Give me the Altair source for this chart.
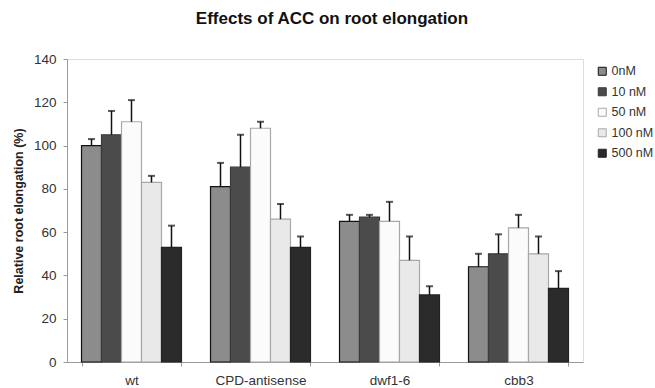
import altair as alt
import pandas as pd

groups = ["wt", "CPD-antisense", "dwf1-6", "cbb3"]
concs = ["0nM", "10 nM", "50 nM", "100 nM", "500 nM"]
values = {
    "wt": [100, 105, 111, 83, 53],
    "CPD-antisense": [81, 90, 108, 66, 53],
    "dwf1-6": [65, 67, 65, 47, 31],
    "cbb3": [44, 50, 62, 50, 34],
}
err_top = {
    "wt": [103, 116, 121, 86, 63],
    "CPD-antisense": [92, 105, 111, 73, 58],
    "dwf1-6": [68, 68, 74, 58, 35],
    "cbb3": [50, 59, 68, 58, 42],
}
fills = ["#8c8c8c", "#4b4b4b", "#fbfbfb", "#e9e9e9", "#2b2b2b"]
strokes = ["#111111", "#3a3a3a", "#a8a8a8", "#a8a8a8", "#222222"]

rows = []
for g in groups:
    for i, c in enumerate(concs):
        rows.append({"group": g, "conc": c, "value": values[g][i], "err": err_top[g][i]})
df = pd.DataFrame(rows)

FONT = "Liberation Sans"

x = alt.X("group:N", sort=groups, title=None,
          scale=alt.Scale(paddingInner=0.225, paddingOuter=0.1125),
          axis=alt.Axis(labelAngle=0, tickBand="extent", domainColor="#9a9a9a",
                        tickColor="#9a9a9a", tickSize=4, labelPadding=7,
                        labelFont=FONT, labelFontSize=13.5, labelColor="#333333"))
xo = alt.XOffset("conc:N", sort=concs, scale=alt.Scale(paddingInner=0, paddingOuter=0))
y = alt.Y("value:Q", scale=alt.Scale(domain=[0, 140]),
          title="Relative root elongation (%)",
          axis=alt.Axis(values=list(range(0, 141, 20)), grid=False, domainColor="#9a9a9a",
                        tickColor="#9a9a9a", tickSize=4, labelPadding=7,
                        labelFont=FONT, labelFontSize=13.5, labelColor="#333333",
                        titleFont=FONT, titleFontSize=12.5, titleFontWeight="bold",
                        titleColor="#222222", titlePadding=8))

bars = alt.Chart(df).mark_bar(strokeWidth=1.2).encode(
    x=x, xOffset=xo, y=y,
    fill=alt.Fill("conc:N", sort=concs, scale=alt.Scale(domain=concs, range=fills),
                  legend=alt.Legend(title=None, orient="none", legendX=529, legendY=6,
                                    symbolType="square", symbolSize=64, symbolStrokeWidth=1,
                                    labelFont=FONT, labelFontSize=12.5, labelColor="#333333",
                                    rowPadding=7.5, labelOffset=3)),
    stroke=alt.Stroke("conc:N", sort=concs, scale=alt.Scale(domain=concs, range=strokes),
                      legend=None),
)

rules = alt.Chart(df).mark_rule(color="#111111", strokeWidth=1.5).encode(
    x=alt.X("group:N", sort=groups), xOffset=alt.XOffset("conc:N", sort=concs),
    y="value:Q", y2="err:Q",
)
caps = alt.Chart(df).mark_tick(color="#111111", thickness=2, size=7).encode(
    x=alt.X("group:N", sort=groups), xOffset=alt.XOffset("conc:N", sort=concs),
    y="err:Q",
)

chart = alt.layer(bars, rules, caps).properties(
    width=516, height=303,
    title=alt.Title("Effects of ACC on root elongation", font=FONT, fontSize=17,
                    fontWeight="bold", color="#111111", offset=24, anchor="middle", dx=7),
    padding={"left": 67, "top": 59, "right": 72, "bottom": 26},
    autosize=alt.AutoSizeParams(type="none"),
).configure_view(stroke=None).configure(background="white")

chart.save("out.html", embed_options={"renderer": "svg", "actions": False})
